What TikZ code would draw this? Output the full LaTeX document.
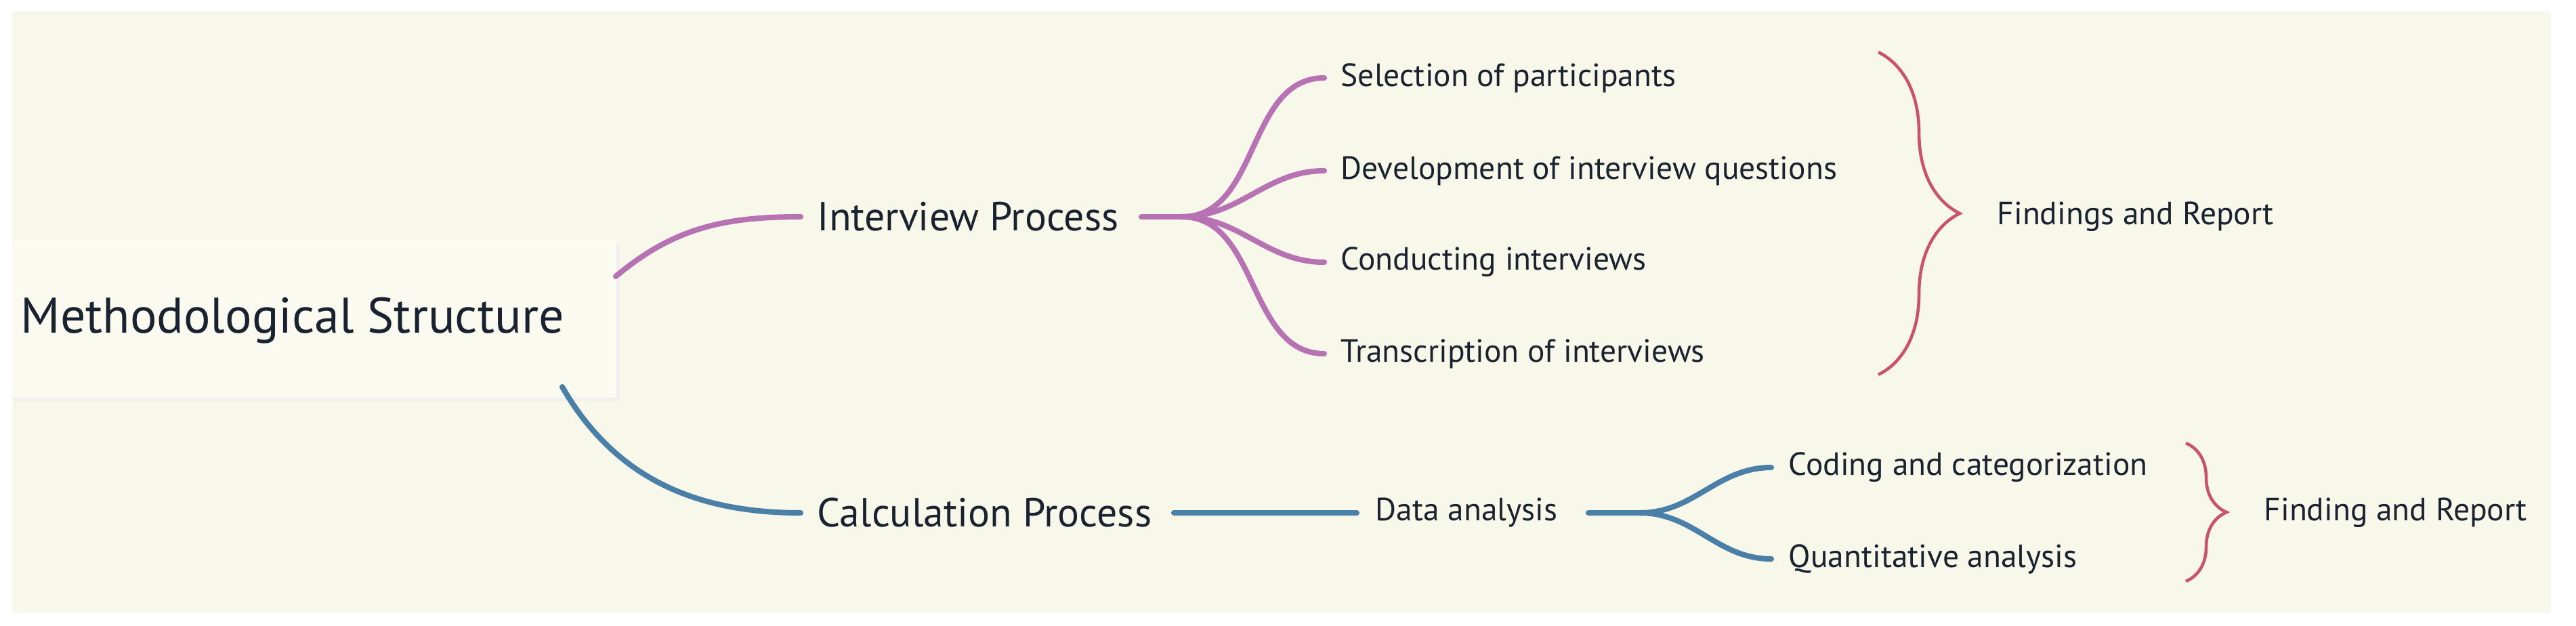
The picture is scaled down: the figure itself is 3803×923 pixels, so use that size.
\documentclass[tikz,border=0pt]{standalone}
\usepackage{fontspec}
\setmainfont{PT Sans}
\usetikzlibrary{decorations.pathreplacing}
\definecolor{cream}{HTML}{F8F8EA}
\definecolor{rootfill}{HTML}{FAFAF0}
\definecolor{purp}{HTML}{B672B2}
\definecolor{blu}{HTML}{4A80A8}
\definecolor{brc}{HTML}{C85468}
\definecolor{txt}{HTML}{1A2230}
\begin{document}
\begin{tikzpicture}[x=0.01cm,y=-0.01cm,
  lbl/.style={anchor=west,inner sep=0pt,text=txt},
  l1/.style={lbl,font=\fontsize{17}{17}\selectfont},
  l2/.style={lbl,font=\fontsize{13.5}{13.5}\selectfont},
  pl/.style={draw=purp,line width=2.3pt,line cap=round},
  bl/.style={draw=blu,line width=2.3pt,line cap=round},
  br/.style={draw=brc,line width=1.3pt,decorate,decoration={brace,amplitude=#1}}]
\useasboundingbox (0,0) rectangle (3803,923);
\fill[white] (0,0) rectangle (3803,923);
\fill[cream] (18,17) rectangle (3766,905);
\fill[black!6] (22,358) rectangle (915,592);
\node[fill=rootfill,anchor=north west,minimum width=891\pgflinewidth,inner sep=0pt,
  minimum width=8.91cm,minimum height=2.34cm] (root) at (18,352) {};
\node[lbl,font=\fontsize{21}{21}\selectfont] (rootT) at (30,473) {Methodological Structure};
\coordinate (rA) at (909,408);
\coordinate (rB) at (830,571);
\node[l1] (ip) at (1206,320) {Interview Process};
\node[l1] (cp) at (1206,757) {Calculation Process};
\coordinate (ipo) at (1685,320);
\coordinate (ipf) at (1745,320);
\node[l2] (c1) at (1979,115) {Selection of participants};
\node[l2] (c2) at (1979,252) {Development of interview questions};
\node[l2] (c3) at (1979,387) {Conducting interviews};
\node[l2] (c4) at (1979,522) {Transcription of interviews};
\node[l2] (fr1) at (2948,320) {Findings and Report};
\node[l2] (da) at (2030,757) {Data analysis};
\coordinate (cpo) at (1733,757);
\coordinate (dao) at (2345,757);
\coordinate (daf) at (2421,757);
\node[l2] (d1) at (2640,690) {Coding and categorization};
\node[l2] (d2) at (2640,825) {Quantitative analysis};
\node[l2] (fr2) at (3342,757) {Finding and Report};
% connectors
\draw[pl] (rA) to[out=40,in=180] ([xshift=-0.24cm]ip.west);
\draw[bl] (rB) to[out=-60,in=180] ([xshift=-0.24cm]cp.west);
\draw[pl] (ipo) -- (ipf);
\foreach \c in {c1,c2,c3,c4}{\draw[pl] (ipf) to[out=0,in=180] ([xshift=-0.24cm]\c.west);}
\draw[bl] (cpo) -- ([xshift=-0.27cm]da.west);
\draw[bl] (dao) -- (daf);
\foreach \c in {d1,d2}{\draw[bl] (daf) to[out=0,in=180] ([xshift=-0.25cm]\c.west);}
\draw[br=1.2cm] (2773,77) -- (2773,553);
\draw[br=0.6cm] (3227,654) -- (3227,858);
\end{tikzpicture}
\end{document}
